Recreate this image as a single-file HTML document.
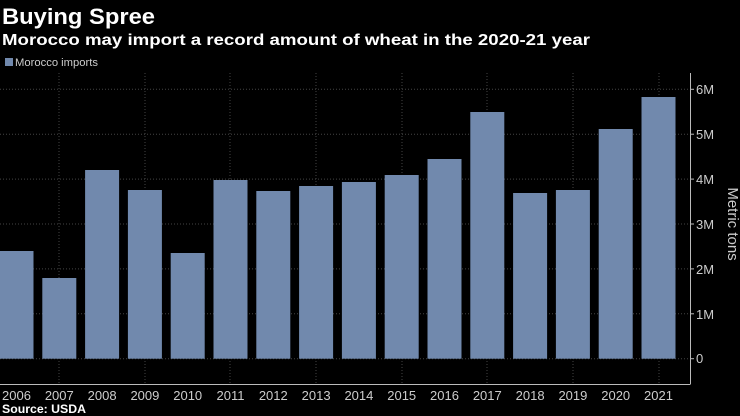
<!DOCTYPE html>
<html><head><meta charset="utf-8"><style>
html,body{margin:0;padding:0;background:#000;}
svg{display:block;font-family:"Liberation Sans Narrow","Liberation Sans",sans-serif;}
</style></head><body>
<svg width="740" height="416" viewBox="0 0 740 416" xmlns="http://www.w3.org/2000/svg">
<rect width="740" height="416" fill="#000"/>
<text x="2" y="24" fill="#fff" font-size="22" font-weight="bold" font-family="Liberation Sans, sans-serif" textLength="153" lengthAdjust="spacingAndGlyphs">Buying Spree</text>
<text x="2" y="45" fill="#fff" font-size="16" font-weight="bold" font-family="Liberation Sans, sans-serif" textLength="588" lengthAdjust="spacingAndGlyphs">Morocco may import a record amount of wheat in the 2020-21 year</text>
<rect x="5" y="58" width="8" height="8" fill="#7189ad"/>
<text x="15" y="66" fill="#ccc" font-size="11" textLength="83" lengthAdjust="spacingAndGlyphs">Morocco imports</text>
<g stroke="#444" stroke-width="1" stroke-dasharray="1,2">
<line x1="0" x2="690" y1="89.3" y2="89.3"/>
<line x1="0" x2="690" y1="134.2" y2="134.2"/>
<line x1="0" x2="690" y1="179.1" y2="179.1"/>
<line x1="0" x2="690" y1="224" y2="224"/>
<line x1="0" x2="690" y1="268.9" y2="268.9"/>
<line x1="0" x2="690" y1="313.8" y2="313.8"/>
<line x1="0" x2="690" y1="358.7" y2="358.7"/>
<line x1="59" x2="59" y1="73" y2="384"/>
<line x1="145" x2="145" y1="73" y2="384"/>
<line x1="230" x2="230" y1="73" y2="384"/>
<line x1="316" x2="316" y1="73" y2="384"/>
<line x1="402" x2="402" y1="73" y2="384"/>
<line x1="487" x2="487" y1="73" y2="384"/>
<line x1="573" x2="573" y1="73" y2="384"/>
<line x1="659" x2="659" y1="73" y2="384"/>
</g>
<g fill="#7189ad">
<rect x="-0.5" y="251" width="34" height="107.7"/>
<rect x="42.3" y="278" width="34" height="80.7"/>
<rect x="85.1" y="170" width="34" height="188.7"/>
<rect x="127.9" y="190" width="34" height="168.7"/>
<rect x="170.7" y="253" width="34" height="105.7"/>
<rect x="213.5" y="180" width="34" height="178.7"/>
<rect x="256.3" y="191" width="34" height="167.7"/>
<rect x="299.1" y="186" width="34" height="172.7"/>
<rect x="341.9" y="182" width="34" height="176.7"/>
<rect x="384.7" y="175" width="34" height="183.7"/>
<rect x="427.5" y="159" width="34" height="199.7"/>
<rect x="470.3" y="112" width="34" height="246.7"/>
<rect x="513.1" y="193" width="34" height="165.7"/>
<rect x="555.9" y="190" width="34" height="168.7"/>
<rect x="598.7" y="129" width="34" height="229.7"/>
<rect x="641.5" y="97" width="34" height="261.7"/>
</g>
<g stroke="#bbb" stroke-width="1">
<line x1="0" x2="690" y1="384.5" y2="384.5"/>
<line x1="690.5" x2="690.5" y1="73" y2="384.5"/>
<line x1="690" x2="694" y1="89.3" y2="89.3"/>
<line x1="690" x2="694" y1="134.2" y2="134.2"/>
<line x1="690" x2="694" y1="179.1" y2="179.1"/>
<line x1="690" x2="694" y1="224" y2="224"/>
<line x1="690" x2="694" y1="268.9" y2="268.9"/>
<line x1="690" x2="694" y1="313.8" y2="313.8"/>
<line x1="690" x2="694" y1="358.7" y2="358.7"/>
</g>
<g fill="#ccc" font-size="13">
<text x="696" y="94">6M</text>
<text x="696" y="139">5M</text>
<text x="696" y="184">4M</text>
<text x="696" y="229">3M</text>
<text x="696" y="274">2M</text>
<text x="696" y="319">1M</text>
<text x="696" y="363">0</text>
</g>
<text transform="translate(728,224) rotate(90)" fill="#ccc" font-size="15" text-anchor="middle">Metric tons</text>
<g fill="#ccc" font-size="13" text-anchor="middle">
<text x="16.5" y="400">2006</text>
<text x="59.3" y="400">2007</text>
<text x="102.1" y="400">2008</text>
<text x="144.9" y="400">2009</text>
<text x="187.7" y="400">2010</text>
<text x="230.5" y="400">2011</text>
<text x="273.3" y="400">2012</text>
<text x="316.1" y="400">2013</text>
<text x="358.9" y="400">2014</text>
<text x="401.7" y="400">2015</text>
<text x="444.5" y="400">2016</text>
<text x="487.3" y="400">2017</text>
<text x="530.1" y="400">2018</text>
<text x="572.9" y="400">2019</text>
<text x="615.7" y="400">2020</text>
<text x="658.5" y="400">2021</text>
</g>
<text x="2" y="413" fill="#fff" font-size="12" font-weight="bold" font-family="Liberation Sans, sans-serif" textLength="84" lengthAdjust="spacingAndGlyphs">Source: USDA</text>
</svg>
</body></html>
